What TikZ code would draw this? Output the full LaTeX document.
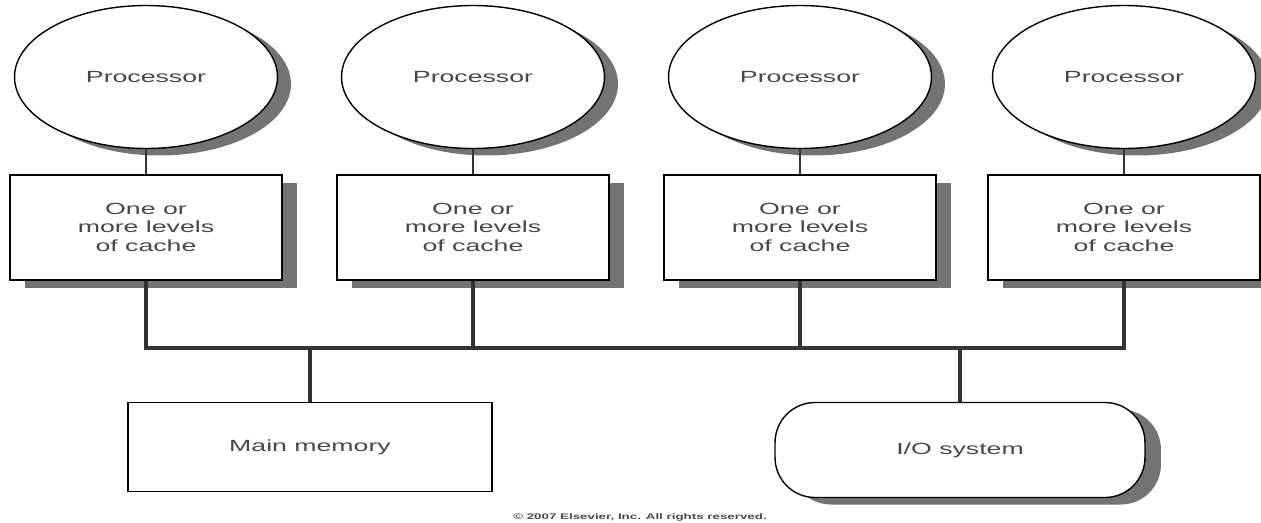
\documentclass[tikz,border=0pt]{standalone}
\usepackage{fontspec}
\setmainfont{Liberation Sans}
\newfontfamily\widesans[FakeStretch=1.65]{Liberation Sans}
\usepackage{tikz}
\usetikzlibrary{positioning, shapes.geometric, shadows}

\begin{document}
\begin{tikzpicture}[
    x=0.02cm, y=-0.02cm,
    node distance=0.5cm,
    every node/.style={font=\widesans\fontsize{9.2}{10.6}\selectfont, text=black!72},
    shade/.style={drop shadow={shadow xshift=0.3cm, shadow yshift=-0.17cm,
                  fill=black!55, opacity=1}},
    proc/.style={ellipse, draw, line width=0.8pt, fill=white,
                 minimum width=5.26cm, minimum height=2.86cm,
                 drop shadow={shadow xshift=0.27cm, shadow yshift=-0.14cm,
                 fill=black!55, opacity=1}},
    cache/.style={rectangle, draw, line width=0.8pt, fill=white, shade,
                  minimum width=5.44cm, minimum height=2.1cm, align=center},
    mem/.style={rectangle, draw, line width=0.8pt, fill=white,
                minimum width=7.28cm, minimum height=1.78cm},
    iobox/.style={rectangle, rounded corners=0.8cm, draw, line width=0.8pt,
                  fill=white, minimum width=7.4cm, minimum height=1.9cm,
                  drop shadow={shadow xshift=0.32cm, shadow yshift=-0.14cm,
                  fill=black!55, opacity=1}},
    link/.style={line width=0.8pt, draw=black!80},
    bus/.style={line width=2.6pt, draw=black!80}
]
\useasboundingbox (0,0) rectangle (1261,522);

% Processors
\node[proc] (p1) at (146,77)  {Processor};
\node[proc] (p2) at (473,77)  {Processor};
\node[proc] (p3) at (800,77)  {Processor};
\node[proc] (p4) at (1124,77) {Processor};

% Caches
\node[cache, below=of p1] (c1) {One or\\more levels\\of cache};
\node[cache, below=of p2] (c2) {One or\\more levels\\of cache};
\node[cache, below=of p3] (c3) {One or\\more levels\\of cache};
\node[cache, below=of p4] (c4) {One or\\more levels\\of cache};

% Memory and I/O
\node[mem]   (mm) at (310,447) {Main memory};
\node[iobox] (io) at (960,450) {I/O system};

% Bus
\coordinate (busy) at (0,348);
\coordinate (b1) at (c1 |- busy);
\coordinate (b4) at (c4 |- busy);
\coordinate (bm) at (mm |- busy);
\coordinate (bi) at (io |- busy);

\draw[link] (p1) -- (c1);
\draw[link] (p2) -- (c2);
\draw[link] (p3) -- (c3);
\draw[link] (p4) -- (c4);

\draw[bus] (c1.south) -- (b1);
\draw[bus] (c2.south) -- (c2 |- busy);
\draw[bus] (c3.south) -- (c3 |- busy);
\draw[bus] (c4.south) -- (b4);
\draw[bus, line cap=rect] (b1) -- (b4);
\draw[bus] (bm) -- (mm.north);
\draw[bus] (bi) -- (io.north);

% Copyright
\node[font=\widesans\fontsize{4.6}{6}\selectfont\bfseries] (copy) at (640,517)
    {\textcopyright{} 2007 Elsevier, Inc. All rights reserved.};

\end{tikzpicture}
\end{document}
